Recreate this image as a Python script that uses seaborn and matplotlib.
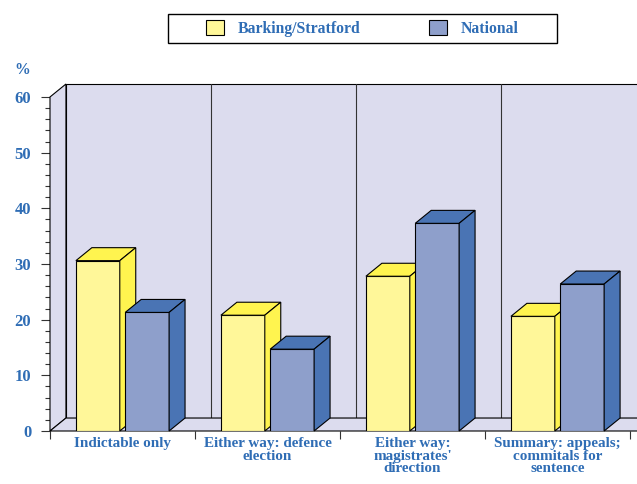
import pandas as pd
import seaborn as sns
import matplotlib.pyplot as plt
from matplotlib.patches import Polygon, Rectangle

# data (%)
categories = ["Indictable only", "Either way: defence\nelection",
              "Either way:\nmagistrates'\ndirection",
              "Summary: appeals;\ncommitals for\nsentence"]
series = ["Barking/Stratford", "National"]
barking = [30.6, 20.8, 27.8, 20.6]
national = [21.3, 14.7, 37.3, 26.4]

yellow_front, yellow_side = "#FFF799", "#FFF44F"
blue_front, blue_side = "#8E9FCB", "#4A74B4"
wall = "#DCDCEE"
txt = "#2F6DB5"
DX, DY = 0.11, 2.33  # 3d depth offset
FS = 11.3

df = pd.DataFrame({
    "category": categories * 2,
    "value": barking + national,
    "area": [series[0]] * len(categories) + [series[1]] * len(categories),
})

sns.set_style("white")
plt.rcParams["font.family"] = ["Liberation Serif", "DejaVu Serif"]
plt.rcParams["font.weight"] = "bold"

fig = plt.figure(figsize=(6.37, 4.84), dpi=100)
ax = fig.add_axes([50 / 637, 1 - 431 / 484, 587 / 637, 347 / 484])

sns.barplot(data=df, x="category", y="value", hue="area",
            palette=[yellow_front, blue_front], saturation=1,
            width=0.68, gap=0.11, edgecolor="black", linewidth=0.8, ax=ax)

# only the real bars (seaborn may add empty proxy patches)
bars = [p for p in ax.patches if p.get_width() > 0 and p.get_height() > 0]
leg = ax.get_legend()
handles = leg.legend_handles
labels = [t.get_text() for t in leg.get_texts()]
leg.remove()

ax.set_xlim(-0.5, 3.548)
ax.set_ylim(0, 60 + DY)

# walls and floor
ax.add_patch(Rectangle((-0.5 + DX, DY), 5, 60, fc=wall, ec="black", lw=0.8,
                       zorder=0.5, clip_on=False))
ax.add_patch(Polygon([(-0.5, 0), (-0.5, 60), (-0.5 + DX, 60 + DY), (-0.5 + DX, DY)],
                     fc=wall, ec="black", lw=0.8, zorder=0.6, clip_on=False))
ax.add_patch(Polygon([(-0.5, 0), (4.5, 0), (4.5 + DX, DY), (-0.5 + DX, DY)],
                     fc=wall, ec="black", lw=0.8, zorder=0.6, clip_on=False))
for b in [0.5, 1.5, 2.5]:
    ax.plot([b + DX, b + DX], [DY, 60 + DY], color="#333333", lw=0.8, zorder=0.55)

# top and side faces for each bar
for p in bars:
    x0, w, h = p.get_x(), p.get_width(), p.get_height()
    grp = 0 if (x0 + w / 2) - round(x0 + w / 2) < 0 else 1
    side = [yellow_side, blue_side][grp]
    z = 2 + grp
    p.set_zorder(z)
    top = [(x0, h), (x0 + w, h), (x0 + w + DX, h + DY), (x0 + DX, h + DY)]
    rs = [(x0 + w, 0), (x0 + w + DX, DY), (x0 + w + DX, h + DY), (x0 + w, h)]
    for pts in (top, rs):
        ax.add_patch(Polygon(pts, fc=side, ec="black", lw=0.8, zorder=z,
                             clip_on=False))

for s in ax.spines.values():
    s.set_visible(False)
ax.patch.set_alpha(0)
ax.set_xlabel("")
ax.set_ylabel("")

ax.set_xticks(range(len(categories)), categories)
ax.set_xticks([-0.5, 0.5, 1.5, 2.5, 3.5], minor=True)
ax.tick_params(axis="x", which="major", length=0, pad=4.5, labelsize=10.9,
               labelcolor=txt)
ax.tick_params(axis="x", which="minor", bottom=True, length=6, width=0.8,
               color="#333333", direction="out")
for t in ax.get_xticklabels():
    t.set_linespacing(0.93)

ax.set_yticks(range(0, 61, 10))
ax.set_yticks(range(0, 61, 2), minor=True)
ax.tick_params(axis="y", which="major", left=True, length=6.5, width=0.8,
               color="#333333", direction="out", pad=7, labelsize=12,
               labelcolor=txt)
ax.tick_params(axis="y", which="minor", left=True, length=3.6, width=0.8,
               color="#333333", direction="out")

fig.text(22 / 637, 1 - 70 / 484, "%", ha="center", va="center", color=txt,
         fontsize=FS, weight="bold")

# legend
fig.add_artist(Rectangle((168 / 637, 1 - 43 / 484), 389 / 637, 29 / 484,
                         transform=fig.transFigure, fc="white", ec="black", lw=1))
for hd in handles:
    hd.set_edgecolor("black")
    hd.set_linewidth(0.8)
fig.legend(handles, labels, loc="center", ncol=2, frameon=False,
           bbox_to_anchor=(362.5 / 637, 1 - 28.5 / 484),
           bbox_transform=fig.transFigure, prop={"size": FS, "weight": "bold"},
           labelcolor=txt, handlelength=1.15, handleheight=1.1,
           handletextpad=0.85, columnspacing=4.4)

fig.savefig("out.png", dpi=100)
